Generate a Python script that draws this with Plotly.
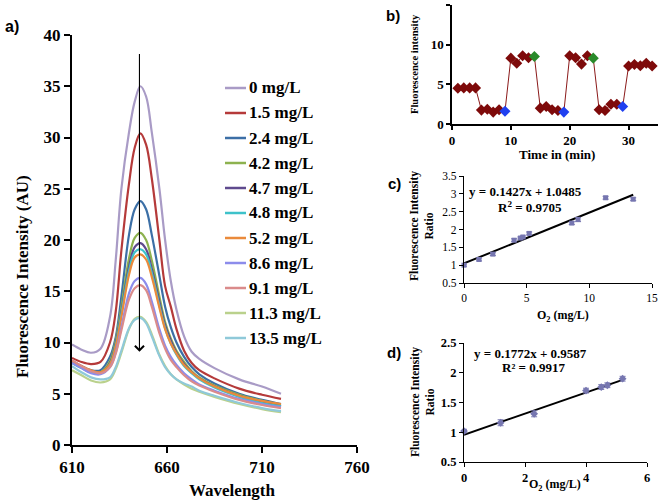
import plotly.graph_objects as go

W_PX, H_PX = 659, 500

# ---------------- Panel a: emission spectra ----------------
wavelength = [610, 615, 620, 625, 630, 633, 636, 640, 643, 646, 649, 652, 656, 659, 662, 665, 669, 673, 677, 685, 698, 710, 720]
conc_labels = ["0 mg/L", "1.5 mg/L", "2.4 mg/L", "4.2 mg/L", "4.7 mg/L", "4.8 mg/L",
               "5.2 mg/L", "8.6 mg/L", "9.1 mg/L", "11.3 mg/L", "13.5 mg/L"]
spec_0_0 = [9.8, 9.3, 9.0, 9.4, 12.5, 18.0, 25.0, 30.5, 33.5, 35.0, 34.0, 30.5, 25.0, 20.0, 16.0, 13.2, 10.6, 9.1, 8.4, 7.5, 6.4, 5.7, 5.0]
spec_1_5 = [8.5, 8.1, 7.9, 8.1, 10.0, 13.0, 19.0, 25.5, 29.0, 30.4, 29.3, 26.0, 20.0, 15.5, 13.5, 11.3, 9.2, 8.0, 7.3, 6.5, 5.5, 4.9, 4.5]
spec_2_4 = [8.2, 7.7, 7.3, 7.3, 8.6, 10.5, 14.5, 20.5, 23.0, 23.8, 23.0, 20.5, 16.5, 13.5, 11.5, 10.0, 8.6, 7.6, 6.9, 6.0, 5.0, 4.4, 4.0]
spec_4_2 = [8.1, 7.6, 7.2, 7.1, 8.2, 10.2, 13.5, 18.2, 20.2, 20.7, 20.0, 18.0, 14.5, 12.0, 10.4, 9.2, 8.1, 7.2, 6.6, 5.8, 4.9, 4.3, 3.9]
spec_4_7 = [8.1, 7.6, 7.2, 7.0, 8.0, 9.9, 13.0, 17.4, 19.3, 19.7, 19.1, 17.2, 14.0, 11.7, 10.2, 9.0, 7.9, 7.1, 6.5, 5.7, 4.8, 4.2, 3.8]
spec_4_8 = [8.0, 7.5, 7.1, 7.0, 7.9, 9.7, 12.8, 17.0, 18.8, 19.1, 18.6, 16.8, 13.6, 11.4, 9.9, 8.8, 7.7, 7.0, 6.4, 5.6, 4.7, 4.1, 3.8]
spec_5_2 = [8.2, 7.7, 7.3, 7.1, 7.9, 9.6, 12.5, 16.6, 18.3, 18.6, 18.1, 16.4, 13.4, 11.3, 9.9, 8.9, 7.8, 7.1, 6.5, 5.7, 4.8, 4.3, 4.0]
spec_8_6 = [8.0, 7.5, 7.0, 6.9, 7.6, 9.0, 11.5, 14.8, 16.0, 16.3, 15.7, 14.0, 11.3, 9.7, 8.6, 7.8, 7.0, 6.4, 5.9, 5.3, 4.5, 4.0, 3.7]
spec_9_1 = [8.3, 7.7, 7.2, 7.0, 7.6, 8.9, 11.2, 14.2, 15.3, 15.6, 15.1, 13.5, 10.9, 9.4, 8.3, 7.6, 6.8, 6.2, 5.8, 5.2, 4.4, 3.9, 3.6]
spec_11_3 = [7.3, 6.8, 6.3, 6.1, 6.4, 7.4, 9.0, 11.3, 12.3, 12.5, 12.0, 10.8, 8.8, 7.7, 6.9, 6.4, 5.9, 5.5, 5.2, 4.7, 4.0, 3.5, 3.2]
spec_13_5 = [7.7, 7.1, 6.6, 6.4, 6.6, 7.6, 9.2, 11.4, 12.2, 12.4, 11.9, 10.6, 8.7, 7.6, 6.9, 6.4, 6.0, 5.7, 5.3, 4.8, 4.1, 3.6, 3.3]
spectra = [spec_0_0, spec_1_5, spec_2_4, spec_4_2, spec_4_7, spec_4_8,
           spec_5_2, spec_8_6, spec_9_1, spec_11_3, spec_13_5]
spec_colors = ["#A99BC6", "#B53A3A", "#3C6FA6", "#8DB24F", "#5F4A8E", "#3EC2CA",
               "#EA8A3B", "#8C8CEB", "#DA8B8B", "#BAD18C", "#8FC9D9"]

# ---------------- Panel b: time response ----------------
time_min = [1, 2, 3, 4, 5, 6, 7, 8, 9, 10, 11, 12, 13, 14, 15, 16, 17, 18, 19, 20,
            21, 22, 23, 24, 25, 26, 27, 28, 29, 30, 31, 32, 33, 34]
intensity_b = [4.5, 4.55, 4.55, 4.55, 1.75, 1.85, 1.5, 1.8, 1.6, 8.3, 7.65, 8.6, 8.35, 8.5,
               2.0, 2.2, 1.8, 1.7, 1.5, 8.6, 8.35, 7.55, 8.6, 8.3,
               1.8, 1.7, 2.5, 2.5, 2.2, 7.3, 7.5, 7.35, 7.65, 7.3]
blue_times = [9, 19, 29]
green_times = [14, 24]

# ---------------- Panel c: calibration full range ----------------
o2_c = [0, 1.2, 2.3, 4.0, 4.5, 4.7, 5.2, 8.6, 9.1, 11.3, 13.5]
ratio_c = [1.0, 1.16, 1.31, 1.70, 1.76, 1.79, 1.89, 2.18, 2.28, 2.89, 2.85]
err_c = [0.03, 0.04, 0.04, 0.04, 0.03, 0.03, 0.04, 0.04, 0.06, 0.04, 0.04]
slope_c, intercept_c = 0.1427, 1.0485

# ---------------- Panel d: calibration low range ----------------
o2_d = [0, 1.2, 2.3, 4.0, 4.5, 4.7, 5.2]
ratio_d = [1.02, 1.16, 1.31, 1.70, 1.76, 1.79, 1.90]
err_d = [0.03, 0.05, 0.05, 0.04, 0.04, 0.04, 0.04]
slope_d, intercept_d = 0.1772, 0.9587


def px(x):
    return x / W_PX


def py(y):
    return 1 - y / H_PX


SERIF = "Liberation Serif"
SANS = "Liberation Sans"

fig = go.Figure()

for lab, ys, col in zip(conc_labels, spectra, spec_colors):
    fig.add_trace(go.Scatter(x=wavelength, y=ys, mode="lines", name=lab,
                             line=dict(color=col, width=2.2, shape="spline", smoothing=1.0),
                             xaxis="x", yaxis="y", showlegend=False))

marker_cols_b = []
for t in time_min:
    if t in blue_times:
        marker_cols_b.append("#2040F0")
    elif t in green_times:
        marker_cols_b.append("#2A8A2A")
    else:
        marker_cols_b.append("#7E0A0A")
fig.add_trace(go.Scatter(x=time_min, y=intensity_b, mode="lines+markers",
                         line=dict(color="#8B1A1A", width=1),
                         marker=dict(symbol="diamond", size=8.5, color=marker_cols_b),
                         xaxis="x2", yaxis="y2", showlegend=False, cliponaxis=False))

fig.add_trace(go.Scatter(x=[0, max(o2_c)], y=[intercept_c, slope_c * max(o2_c) + intercept_c],
                         mode="lines", line=dict(color="black", width=2),
                         xaxis="x3", yaxis="y3", showlegend=False))
fig.add_trace(go.Scatter(x=o2_c, y=ratio_c, mode="markers",
                         marker=dict(symbol="square", size=5, color="#7676B0"),
                         error_y=dict(type="data", array=err_c, color="#7676B0", thickness=1, width=3),
                         xaxis="x3", yaxis="y3", showlegend=False, cliponaxis=False))

fig.add_trace(go.Scatter(x=[0, max(o2_d)], y=[intercept_d, slope_d * max(o2_d) + intercept_d],
                         mode="lines", line=dict(color="black", width=2),
                         xaxis="x4", yaxis="y4", showlegend=False))
fig.add_trace(go.Scatter(x=o2_d, y=ratio_d, mode="markers",
                         marker=dict(symbol="diamond", size=6, color="#7676B0"),
                         error_y=dict(type="data", array=err_d, color="#7676B0", thickness=1, width=3),
                         xaxis="x4", yaxis="y4", showlegend=False, cliponaxis=False))


def axis_common(size, bold, lw):
    return dict(showline=True, linecolor="black", linewidth=lw, ticks="outside",
                tickcolor="black", tickwidth=lw, showgrid=False, zeroline=False,
                automargin=False,
                tickfont=dict(family=SERIF, size=size, color="black",
                              weight="bold" if bold else "normal"))


layout = dict(
    width=W_PX, height=H_PX, margin=dict(l=0, r=0, t=0, b=0, autoexpand=False),
    paper_bgcolor="white", plot_bgcolor="white", showlegend=False,
    xaxis=dict(domain=[px(72), px(357)], range=[610, 760], tickvals=[610, 660, 710, 760],
               anchor="y", ticklen=6, **axis_common(17, True, 2)),
    yaxis=dict(domain=[py(445), py(35)], range=[0, 40], dtick=5,
               anchor="x", ticklen=6, **axis_common(17, True, 2)),
    xaxis2=dict(domain=[px(452), px(658)], range=[0, 35], tickvals=[0, 10, 20, 30],
                anchor="y2", ticklen=4, **axis_common(13, True, 1.5)),
    yaxis2=dict(domain=[py(124), py(5)], range=[0, 15], dtick=5,
                anchor="x2", ticklen=4, **axis_common(13, True, 1.5)),
    xaxis3=dict(domain=[px(464), px(652)], range=[0, 15], dtick=5,
                anchor="y3", ticklen=4, **axis_common(11.5, False, 1.2)),
    yaxis3=dict(domain=[py(283), py(176)], range=[0.5, 3.5], dtick=0.5,
                anchor="x3", ticklen=4, **axis_common(11.5, False, 1.2)),
    xaxis4=dict(domain=[px(464), px(647)], range=[0, 6], dtick=2,
                anchor="y4", ticklen=4, **axis_common(12.5, True, 1.2)),
    yaxis4=dict(domain=[py(462), py(343)], range=[0.5, 2.5], dtick=0.5,
                anchor="x4", ticklen=4, **axis_common(12.5, True, 1.2)),
)
fig.update_layout(**layout)

annotations = []
shapes = []


def text(x, y, s, size, family=SERIF, bold=True, angle=0, xanchor="center"):
    annotations.append(dict(x=px(x), y=py(y), xref="paper", yref="paper", text=s,
                            showarrow=False, textangle=angle, xanchor=xanchor, yanchor="middle",
                            font=dict(family=family, size=size, color="black",
                                      weight="bold" if bold else "normal")))


# panel labels
text(12, 26, "a)", 16, family=SANS)
text(393, 15, "b)", 15, family=SANS)
text(394, 183, "c)", 15, family=SANS)
text(394, 352, "d)", 15, family=SANS)

# panel a titles
text(22, 277, "Fluorescence Intensity (AU)", 17, angle=-90)
text(232, 490, "Wavelength", 17)

# panel a legend
for i, (lab, col) in enumerate(zip(conc_labels, spec_colors)):
    yy = 88 + 25 * i
    shapes.append(dict(type="line", xref="paper", yref="paper", x0=px(225), x1=px(246),
                       y0=py(yy), y1=py(yy), line=dict(color=col, width=2.5)))
    text(247, yy, lab, 17, xanchor="left")

# arrow in panel a
annotations.append(dict(x=645.5, y=9.1, ax=645.5, ay=38.3, xref="x", yref="y",
                        axref="x", ayref="y", showarrow=True, arrowhead=4,
                        arrowsize=1.6, arrowwidth=1.1, arrowcolor="black", text=""))

# panel b titles
text(414, 64, "Fluorescence intensity", 10.5, angle=-90)
text(557, 154, "Time in (min)", 13)

# panel c titles
text(422, 226, "Fluorescence Intensity<br>Ratio", 11.5, angle=-90)
text(563, 316, "O<sub>2</sub> (mg/L)", 12)
text(525, 191, "y = 0.1427x + 1.0485", 13)
text(530, 207, "R<sup>2</sup> = 0.9705", 13)

# panel d titles
text(422, 402, "Fluorescence Intensity<br>Ratio", 11.5, angle=-90)
text(555, 485, "O<sub>2</sub> (mg/L)", 12)
text(530, 353, "y = 0.1772x + 0.9587", 13)
text(533, 367, "R² = 0.9917", 13)

fig.update_layout(annotations=annotations, shapes=shapes)

fig.write_html("out.html", config={"displayModeBar": False},
               post_script="document.body.style.margin='0';document.body.style.padding='0';"
                           "document.documentElement.style.overflow='hidden';")
